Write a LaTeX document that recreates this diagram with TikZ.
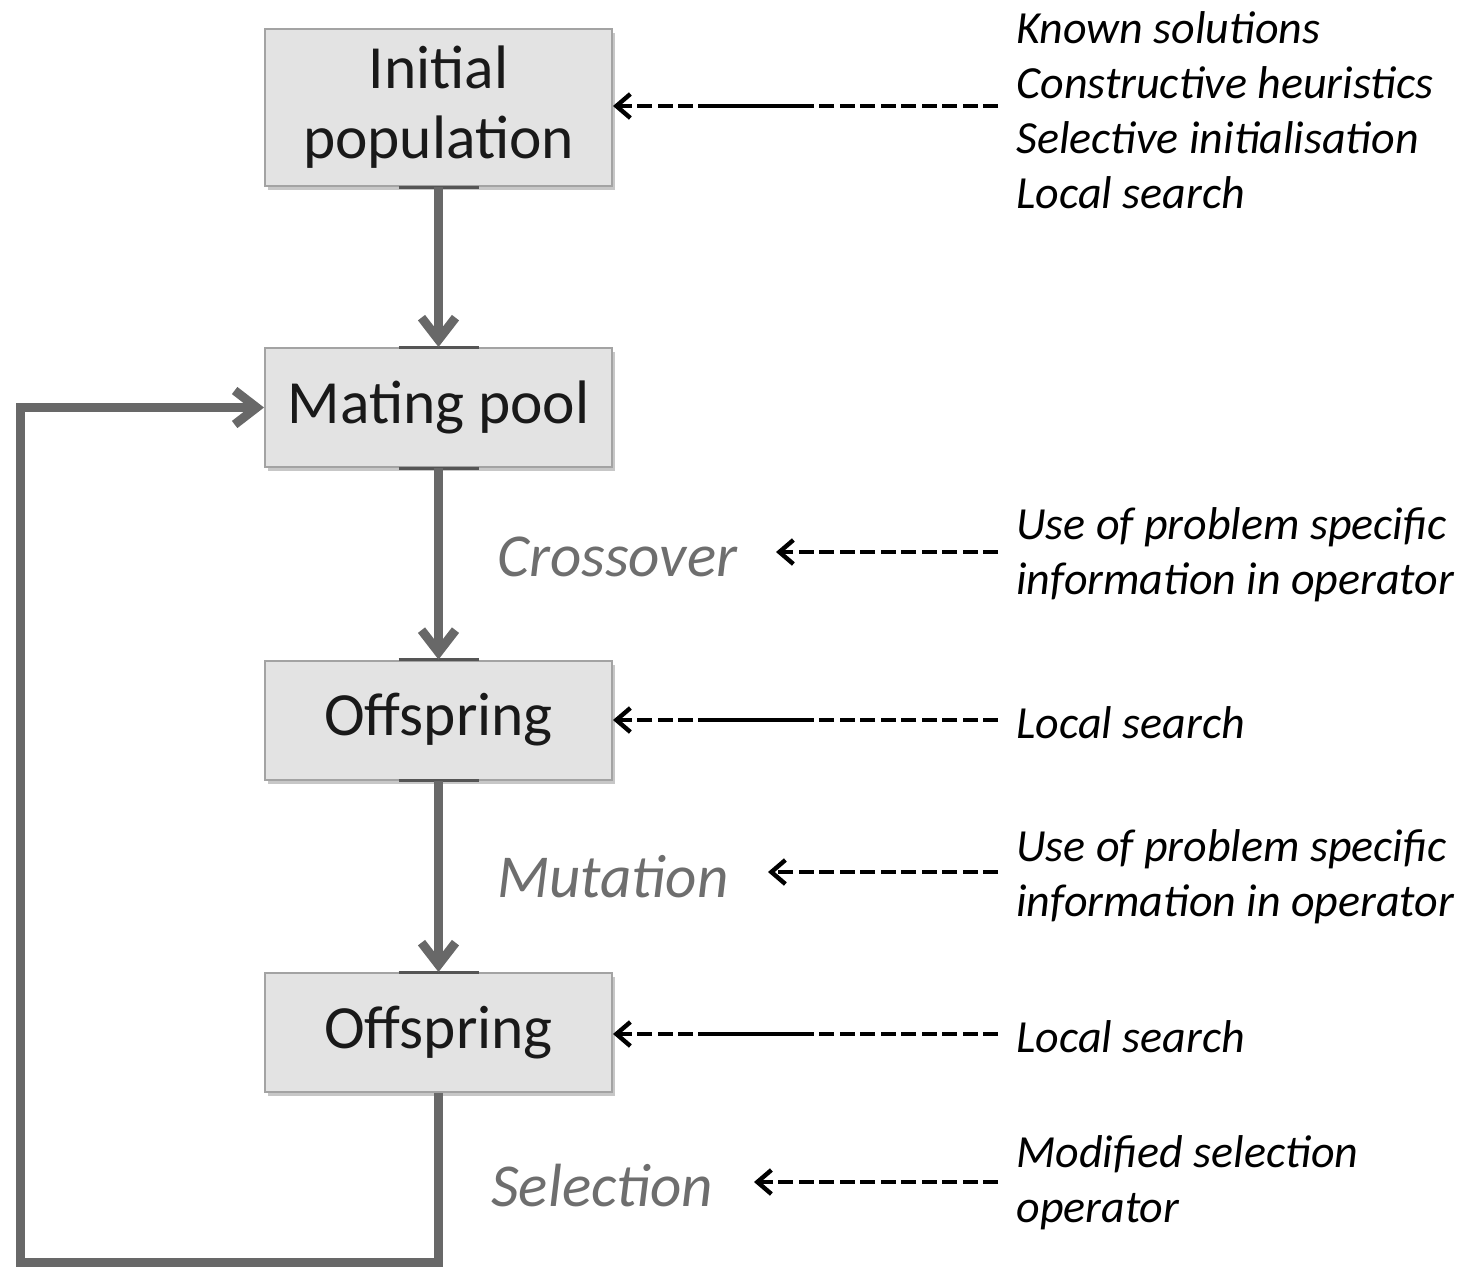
\documentclass[tikz,border=0pt]{standalone}
\usepackage{fontspec}
\setmainfont{Carlito}
\usetikzlibrary{arrows.meta,shadows}
\definecolor{boxfill}{HTML}{E3E3E3}
\definecolor{boxline}{HTML}{A3A3A3}
\definecolor{flowgray}{HTML}{686868}
\definecolor{bargray}{HTML}{555555}
\definecolor{labelgray}{HTML}{6E6E6E}
\begin{document}
\begin{tikzpicture}[x=0.5pt,y=-0.5pt,
  box/.style={draw=boxline, line width=1pt, fill=boxfill, minimum width=173.5pt,
    minimum height=59.5pt, inner sep=0pt, align=center,
    font=\fontsize{30.7}{35}\selectfont, text=black!90,
    drop shadow={shadow xshift=1.5pt, shadow yshift=-2pt, opacity=0.22, fill=black}},
  flow/.style={draw=flowgray, line width=4.5pt,
    -{Straight Barb[length=11pt,width=17pt]}},
  bar/.style={draw=bargray, line width=1.5pt},
  dasharrow/.style={draw=black, line width=2.2pt, dash pattern=on 7.5pt off 2.75pt,
    -{Straight Barb[length=7pt,width=12pt]}},
  longdash/.style={dasharrow, dash pattern=on 7.5pt off 2.75pt on 7.5pt off 2.75pt
    on 7.5pt off 2.75pt on 7.5pt off 2.75pt on 7.5pt off 2.75pt on 7.5pt off 2.75pt
    on 7.5pt off 2.75pt on 7.5pt off 2.75pt on 7.5pt off 2.75pt
    on 57.75pt off 2.5pt on 7.5pt off 2.75pt on 7.5pt off 2.75pt on 7.5pt off 2.75pt
    on 60pt off 0pt},
  rtext/.style={anchor=west, inner sep=0pt, align=left,
    font=\itshape\fontsize{23}{27.5}\selectfont},
  lab/.style={anchor=west, inner sep=0pt, font=\itshape\fontsize{30.5}{35}\selectfont,
    text=labelgray}]
\useasboundingbox (0,0) rectangle (1468,1266);

% boxes
\node[box, minimum height=78.5pt] (b1) at (438.5,107.5) {Initial\\population};
\node[box] (b2) at (438.5,407.5) {Mating pool};
\node[box] (b3) at (438.5,720) {Offspring};
\node[box] (b4) at (438.5,1032.5) {Offspring};

% edge bars
\foreach \n/\a in {b1/south, b2/north, b2/south, b3/north, b3/south, b4/north}
  \draw[bar] ([xshift=-20pt]\n.\a) -- ([xshift=20pt]\n.\a);

% main flow
\draw[flow] (b1.south) -- (b2.north);
\draw[flow] (b2.south) -- (b3.north);
\draw[flow] (b3.south) -- (b4.north);
\coordinate (ll) at (20,1262);
\draw[flow] (b4.south) |- (ll) |- (b2.west);

% operator labels
\node[lab] (l1) at (497,557) {Crossover};
\node[lab] (l2) at (497,877) {Mutation};
\node[lab] (l3) at (491,1186) {Selection};

% right texts
\node[rtext] (t1) at (1016,110) {Known solutions\\Constructive heuristics\\Selective initialisation\\Local search};
\node[rtext] (t2) at (1016,555) {Use of problem specific\\information in operator};
\node[rtext] (t3) at (1016,723) {Local search};
\node[rtext] (t4) at (1016,877) {Use of problem specific\\information in operator};
\node[rtext] (t5) at (1016,1037) {Local search};
\node[rtext] (t6) at (1016,1183) {Modified selection\\operator};

% dashed arrows
\coordinate (s1) at (998,106);
\coordinate (s2) at (998,552);
\coordinate (c2) at (776,552);
\coordinate (s3) at (998,720);
\coordinate (s4) at (998,872);
\coordinate (c4) at (768,872);
\coordinate (s5) at (998,1034);
\coordinate (s6) at (998,1182);
\coordinate (c6) at (754,1182);
\draw[longdash] (s1) -- (s1 -| b1.east);
\draw[dasharrow] (s2) -- (c2);
\draw[longdash] (s3) -- (s3 -| b3.east);
\draw[dasharrow] (s4) -- (c4);
\draw[longdash] (s5) -- (s5 -| b4.east);
\draw[dasharrow] (s6) -- (c6);
\end{tikzpicture}
\end{document}
